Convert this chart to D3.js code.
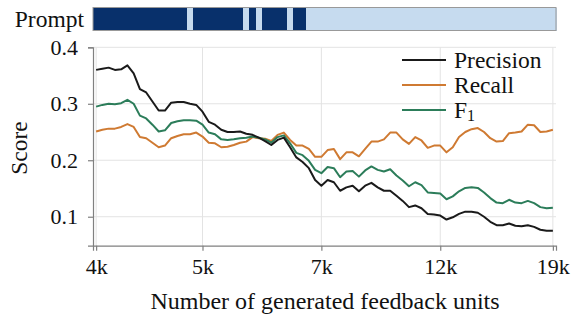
<!DOCTYPE html>
<html><head><meta charset="utf-8">
<script src="https://cdn.jsdelivr.net/npm/d3@7"></script>
<style>body{margin:0;background:#fff}svg{display:block}text{fill:#111}</style>
</head><body><svg id="c" width="573" height="318"></svg>
<script>
const precision=[0.360,0.362,0.364,0.360,0.361,0.368,0.354,0.326,0.320,0.304,
0.288,0.288,0.302,0.303,0.303,0.300,0.298,0.286,0.268,0.263,
0.254,0.250,0.250,0.251,0.247,0.245,0.240,0.234,0.227,0.236,
0.240,0.223,0.205,0.197,0.186,0.165,0.155,0.165,0.161,0.146,
0.152,0.155,0.145,0.155,0.160,0.152,0.146,0.146,0.137,0.128,
0.117,0.120,0.115,0.105,0.104,0.102,0.095,0.099,0.105,0.109,
0.109,0.107,0.100,0.091,0.085,0.085,0.088,0.084,0.083,0.085,
0.082,0.077,0.075,0.075];
const recall=[0.251,0.254,0.256,0.256,0.259,0.264,0.259,0.241,0.239,0.231,
0.223,0.226,0.239,0.243,0.246,0.246,0.249,0.242,0.231,0.230,
0.223,0.224,0.227,0.231,0.233,0.241,0.239,0.238,0.234,0.245,
0.249,0.236,0.226,0.226,0.220,0.206,0.206,0.218,0.220,0.202,
0.214,0.214,0.207,0.220,0.233,0.233,0.237,0.249,0.249,0.237,
0.229,0.241,0.235,0.222,0.226,0.226,0.214,0.223,0.241,0.250,
0.255,0.257,0.250,0.239,0.233,0.234,0.248,0.249,0.251,0.263,
0.262,0.250,0.251,0.254];
const f1=[0.295,0.298,0.300,0.299,0.301,0.307,0.300,0.279,0.274,0.263,
0.251,0.253,0.266,0.269,0.271,0.271,0.270,0.263,0.249,0.246,
0.237,0.236,0.237,0.239,0.240,0.242,0.240,0.237,0.231,0.241,
0.244,0.230,0.213,0.209,0.199,0.183,0.177,0.188,0.186,0.170,
0.180,0.181,0.171,0.182,0.189,0.183,0.180,0.184,0.173,0.164,
0.154,0.161,0.156,0.143,0.142,0.141,0.131,0.136,0.145,0.151,
0.152,0.151,0.143,0.133,0.125,0.124,0.130,0.125,0.124,0.128,
0.124,0.117,0.115,0.116];
const prompt=[1,1,1,1,1,1,1,1,1,1,1,1,1,1,1,0,1,1,1,1,1,1,1,1,0,1,0,1,1,1,1,0,1,1,
0,0,0,0,0,0,0,0,0,0,0,0,0,0,0,0,0,0,0,0,0,0,0,0,0,0,0,0,0,0,0,0,0,0,0,0,0,0,0,0];
const xTickIdx=[0,17,36,55,73];
const xTickLabels=["4k","5k","7k","12k","19k"];
const yTicks=[0.1,0.2,0.3,0.4];
const seriesNames=["Precision","Recall","F1"];

const FONT="'Liberation Serif','Times New Roman',Times,'DejaVu Serif',serif";
const colors={Precision:"#1a1a1a",Recall:"#cf7a32",F1:"#2c7d5a"};
const svg=d3.select("#c").style("font-family",FONT);
const N=precision.length;
const L=93,R=556,T=47.3,B=245.7;
const x=d3.scaleLinear().domain([-0.5,N-0.5]).range([L,R]);
const y=d3.scaleLinear().domain([0.0487,0.4]).range([B,T]);

// prompt bar
const bx=d3.scaleBand().domain(d3.range(N)).range([L,R]);
const bar=svg.append("g");
bar.selectAll("rect").data(prompt).join("rect")
 .attr("x",(d,i)=>bx(i)).attr("width",bx.bandwidth()+0.6)
 .attr("y",7.5).attr("height",23).attr("shape-rendering","crispEdges")
 .attr("fill",d=>d?"#08306b":"#c6dbef");
bar.append("rect").attr("x",L).attr("y",7.5).attr("width",R-L).attr("height",23)
 .attr("fill","none").attr("stroke","#999").attr("stroke-width",1);
svg.append("text").attr("x",84).attr("y",19).attr("text-anchor","end")
 .attr("dominant-baseline","central").attr("font-size",23.5).attr("font-family",FONT).text("Prompt");

// grid
const g=svg.append("g");
g.selectAll(".hg").data(yTicks).join("line")
 .attr("x1",L).attr("x2",R).attr("y1",d=>y(d)).attr("y2",d=>y(d))
 .attr("stroke","#e3e3e3").attr("stroke-width",1);
g.selectAll(".vg").data(xTickIdx).join("line")
 .attr("x1",d=>x(d)).attr("x2",d=>x(d)).attr("y1",T).attr("y2",B)
 .attr("stroke","#e3e3e3").attr("stroke-width",1);

// lines
const series={Precision:precision,Recall:recall,F1:f1};
const line=d3.line().x((d,i)=>x(i)).y(d=>y(d));
["Recall","F1","Precision"].forEach(k=>{
 svg.append("path").datum(series[k]).attr("d",line).attr("fill","none")
  .attr("stroke",colors[k]).attr("stroke-width",2).attr("stroke-linejoin","round");
});

// axes
const xa=svg.append("g").attr("transform",`translate(0,${B})`)
 .call(d3.axisBottom(x).tickValues(xTickIdx).tickFormat((d,i)=>xTickLabels[i]).tickSize(5).tickPadding(8));
const ya=svg.append("g").attr("transform",`translate(${L},0)`)
 .call(d3.axisLeft(y).tickValues(yTicks).tickFormat(d3.format(".1f")).tickSize(5).tickPadding(10));
[xa,ya].forEach(a=>{
 a.attr("font-family",FONT);
 a.select(".domain").attr("stroke","#808080").attr("stroke-width",1.2);
 a.selectAll(".tick line").attr("stroke","#808080").attr("stroke-width",1.2);
 a.selectAll(".tick text").attr("font-family",FONT).attr("font-size",22).attr("fill","#111");
});
svg.append("text").attr("x",325).attr("y",301).attr("text-anchor","middle").attr("font-family",FONT)
 .attr("dominant-baseline","central").attr("font-size",24).text("Number of generated feedback units");
svg.append("text").attr("transform","translate(19,148) rotate(-90)").attr("text-anchor","middle").attr("font-family",FONT)
 .attr("dominant-baseline","central").attr("font-size",23.5).text("Score");

// legend
const lg=svg.append("g").attr("font-family",FONT);
seriesNames.forEach((k,i)=>{
 const yy=60+i*25;
 lg.append("line").attr("x1",402).attr("x2",446).attr("y1",yy).attr("y2",yy)
  .attr("stroke",colors[k]).attr("stroke-width",2);
 const t=lg.append("text").attr("x",454).attr("y",yy).attr("dominant-baseline","central").attr("font-size",23.5).attr("font-family",FONT);
 if(k==="F1"){t.append("tspan").text("F");t.append("tspan").attr("font-size",16).attr("dy",5).text("1");}
 else t.text(k);
});
</script></body></html>
